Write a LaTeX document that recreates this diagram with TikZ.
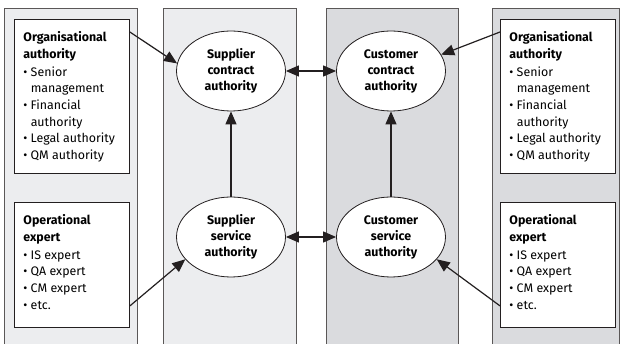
\documentclass[tikz,border=0pt]{standalone}
\usepackage{fontspec}
\setmainfont{Fira Sans}
\usetikzlibrary{arrows.meta,shapes.geometric}

\definecolor{lightpanel}{HTML}{ECEDEF}
\definecolor{darkpanel}{HTML}{DADBDE}
\definecolor{panelline}{HTML}{5A5757}
\definecolor{ink}{HTML}{231F20}

\tikzset{
  panel/.style={draw=panelline,line width=0.9pt},
  rolebox/.style={draw=ink,fill=white,line width=0.9pt,anchor=north west,inner xsep=9pt,inner ysep=8pt,font=\fontsize{12.4}{16.6}\selectfont},
  authority/.style={ellipse,draw=ink,fill=white,line width=0.8pt,minimum width=109pt,minimum height=80pt,inner sep=0pt,align=center,font=\bfseries\fontsize{12.4}{16}\selectfont},
  link/.style={draw=ink,line width=1.2pt,-{Triangle[length=13pt,width=11pt]}},
  duplex/.style={draw=ink,line width=1.2pt,{Triangle[length=13pt,width=11pt]}-{Triangle[length=13pt,width=11pt]}}
}

\newcommand{\bul}{\textbullet\ }
\newcommand{\cont}{\hphantom{\textbullet\ }}

\begin{document}
\begin{tikzpicture}[x=1pt,y=-1pt]
\useasboundingbox (0,0) rectangle (622,344);
\fill[white] (0,0) rectangle (622,344);

% four columns
\draw [panel,fill=lightpanel] (4,8) rectangle (137,360);
\draw [panel,fill=lightpanel] (163,8) rectangle (296,360);
\draw [panel,fill=darkpanel] (326,8) rectangle (458,360);
\draw [panel,fill=darkpanel] (492,8) rectangle (619,360);

% role boxes on both sides
\node [rolebox] (orgL) at (14,19) {\parbox[c][138pt][t]{97pt}{\vspace*{4pt}\textbf{Organisational}\\ \textbf{authority}\\[1.5pt]
  \bul Senior\\ \cont management\\ \bul Financial\\ \cont authority\\ \bul Legal authority\\ \bul QM authority}};
\node [rolebox] (orgR) at (500,19) {\parbox[c][138pt][t]{97pt}{\vspace*{4pt}\textbf{Organisational}\\ \textbf{authority}\\[1.5pt]
  \bul Senior\\ \cont management\\ \bul Financial\\ \cont authority\\ \bul Legal authority\\ \bul QM authority}};
\node [rolebox] (opL) at (14,202) {\parbox[c][109pt][t]{97pt}{\vspace*{4pt}\textbf{Operational}\\ \textbf{expert}\\[1.5pt]
  \bul IS expert\\ \bul QA expert\\ \bul CM expert\\ \bul etc.}};
\node [rolebox] (opR) at (500,202) {\parbox[c][109pt][t]{97pt}{\vspace*{4pt}\textbf{Operational}\\ \textbf{expert}\\[1.5pt]
  \bul IS expert\\ \bul QA expert\\ \bul CM expert\\ \bul etc.}};

% the four authorities
\node [authority] (supC) at (231,71) {Supplier\\contract\\authority};
\node [authority] (cusC) at (391,71) {Customer\\contract\\authority};
\node [authority] (supS) at (231,237) {Supplier\\service\\authority};
\node [authority] (cusS) at (391,237) {Customer\\service\\authority};

% links
\draw [link] ([yshift=-13pt]orgL.north east) -- (supC.172);
\draw [link] ([yshift=-13pt]orgR.north west) -- (cusC.18);
\draw [link] ([yshift=22pt]opL.south east) -- (supS.206);
\draw [link] ([yshift=22pt]opR.south west) -- (cusS.334);
\draw [link] (supS) -- (supC);
\draw [link] (cusS) -- (cusC);
\draw [duplex] (supC) -- (cusC);
\draw [duplex] (supS) -- (cusS);
\end{tikzpicture}
\end{document}
